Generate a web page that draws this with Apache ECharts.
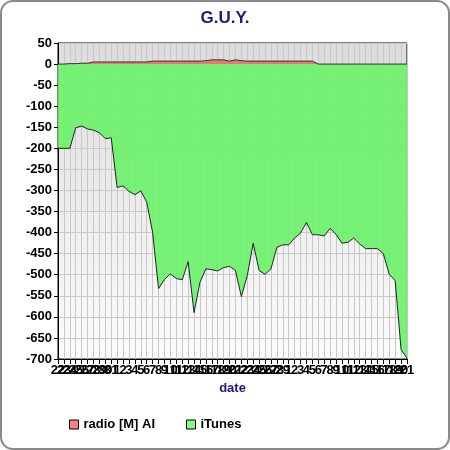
<!DOCTYPE html>
<html>
<head>
<meta charset="utf-8">
<script src="https://cdn.jsdelivr.net/npm/echarts@6/dist/echarts.min.js"></script>
<style>
  html, body { margin: 0; padding: 0; background: #fff; }
  #main { width: 450px; height: 450px; }
</style>
</head>
<body>
<div id="main"></div>
<script>
// day labels along the x axis
const dates = [
  '22', '23', '24', '25', '26', '27', '28', '29', '30', '31',
  '1', '2', '3', '4', '5', '6', '7', '8', '9', '10', '11', '12', '13', '14', '15',
  '16', '17', '18', '19', '20', '21', '22', '23', '24', '25', '26', '27', '28', '29',
  '1', '2', '3', '4', '5', '6', '7', '8', '9', '10', '11', '12', '13', '14', '15',
  '16', '17', '18', '19', '20', '21'
];
const radioValues = [
  0, 0, 1, 1, 2, 2, 5, 5, 5, 5, 5, 5, 5, 5, 5, 5, 7, 7, 7, 7,
  7, 7, 7, 7, 7, 8, 10, 10, 10, 7, 10, 8, 7, 7, 7, 7, 7, 7, 7, 7,
  7, 7, 7, 7, 0, 0, 0, 0, 0, 0, 0, 0, 0, 0, 0, 0, 0, 0, 0, 0
];
const itunesValues = [
  -200, -200, -200, -151, -147, -154, -157, -163, -177, -175,
  -293, -289, -302, -310, -301, -328, -400, -533, -511, -498,
  -509, -512, -469, -590, -518, -486, -488, -491, -483, -480,
  -490, -552, -502, -425, -490, -499, -486, -435, -429, -429,
  -413, -401, -376, -405, -405, -408, -390, -404, -425, -423,
  -413, -427, -438, -438, -438, -450, -499, -514, -678, -698
];
const seriesNames = ['radio [M] AI', 'iTunes'];

const navy = '#1c1c78';
const labelFont = { fontFamily: 'Liberation Sans', fontWeight: 'bold', fontSize: 13, color: '#000' };

const chart = echarts.init(document.getElementById('main'));
chart.setOption({
  animation: false,
  title: {
    text: 'G.U.Y.',
    left: 'center',
    top: 5,
    textStyle: { fontFamily: 'Liberation Sans', fontWeight: 'bold', fontSize: 17, color: navy }
  },
  graphic: [{
    type: 'rect',
    shape: { x: 1, y: 1, width: 448, height: 448, r: 12 },
    style: { fill: 'none', stroke: '#8a8a8a', lineWidth: 2 },
    silent: true
  }],
  legend: {
    left: 64,
    top: 413,
    icon: 'rect',
    itemWidth: 9,
    itemHeight: 9,
    itemGap: 31,
    itemStyle: { borderColor: '#000', borderWidth: 1 },
    textStyle: { fontFamily: 'Liberation Sans', fontWeight: 'bold', fontSize: 13, color: '#000' },
    data: seriesNames
  },
  grid: {
    left: 58,
    right: 43,
    top: 43,
    bottom: 91,
    show: true,
    borderColor: '#000',
    borderWidth: 1,
    backgroundColor: new echarts.graphic.LinearGradient(0, 0, 0, 1, [
      { offset: 0, color: '#dcdcdc' },
      { offset: 1, color: '#fcfcfc' }
    ])
  },
  xAxis: {
    type: 'category',
    data: dates,
    boundaryGap: false,
    name: 'date',
    nameLocation: 'middle',
    nameGap: 17,
    nameTextStyle: { fontFamily: 'Liberation Sans', fontWeight: 'bold', fontSize: 13, color: navy },
    axisLine: { onZero: false, lineStyle: { color: '#000' } },
    axisTick: { length: 5, interval: 0, lineStyle: { color: '#000' } },
    axisLabel: Object.assign({ interval: 0, margin: 5, hideOverlap: false }, labelFont),
    splitLine: { show: true, interval: 0, lineStyle: { color: '#c8c8c8' } }
  },
  yAxis: {
    type: 'value',
    min: -700,
    max: 50,
    interval: 50,
    axisLine: { show: true, lineStyle: { color: '#000' } },
    axisTick: { show: true, length: 4, lineStyle: { color: '#000' } },
    axisLabel: Object.assign({ margin: 6 }, labelFont),
    splitLine: { show: true, lineStyle: { color: '#c8c8c8' } }
  },
  series: [
    {
      name: seriesNames[0],
      type: 'line',
      data: radioValues,
      showSymbol: false,
      itemStyle: { color: '#ff8080' },
      lineStyle: { color: '#333', width: 1 },
      areaStyle: { color: '#f07474', opacity: 1 }
    },
    {
      name: seriesNames[1],
      type: 'line',
      data: itunesValues,
      showSymbol: false,
      itemStyle: { color: '#80ff80' },
      lineStyle: { color: '#222', width: 1 },
      areaStyle: { color: '#6cf26c', opacity: 0.92 }
    }
  ]
});
</script>
</body>
</html>
